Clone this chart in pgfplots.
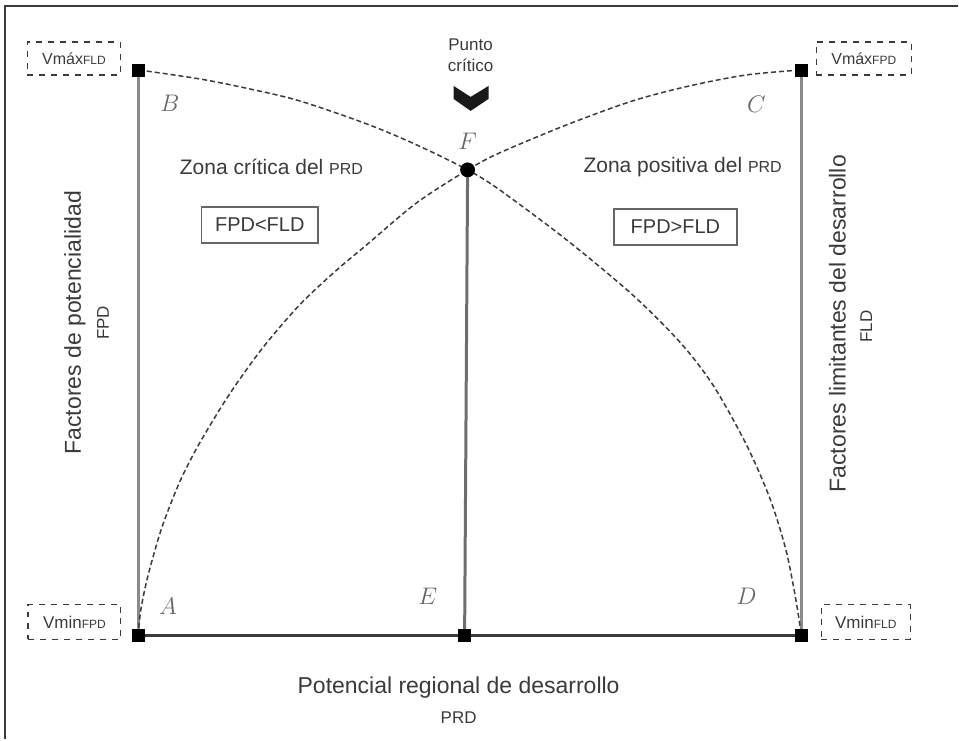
\documentclass[border=0pt]{standalone}
\usepackage{pgfplots}
\pgfplotsset{compat=1.18}
\usepackage{fontspec}
\setmainfont{Liberation Sans}
\definecolor{ink}{HTML}{3A3A3A}
\definecolor{rulegray}{HTML}{8A8A8A}
\newcommand{\fs}[1]{\fontsize{#1}{#1}\selectfont}

\begin{document}
\begin{tikzpicture}
\begin{axis}[
  scale only axis, width=479.5pt, height=370pt,
  xmin=0, xmax=959, ymin=0, ymax=740, y dir=reverse,
  axis line style={draw=none}, ticks=none, clip=false,
]
% outer frame (top and left only)
\addplot[ink, line width=0.8pt] coordinates {(5,740) (5,6) (959,6)};

% vertical and base lines
\addplot[rulegray, line width=1.5pt] coordinates {(139,70) (139,636)};
\addplot[rulegray, line width=1.5pt] coordinates {(802,70) (802,636)};
\addplot[rulegray!80!black, line width=1.5pt] coordinates {(468,170) (465,636)};
\addplot[ink, line width=1.5pt] coordinates {(139,636) (802,636)};

% dashed curves
\addplot[ink, line width=0.75pt, dash pattern=on 2.5pt off 1.5pt, smooth] coordinates {
  (138,636) (141,610) (146,585) (153,558) (163,525) (180,482) (200,443)
  (230,394) (263,348) (300,305) (335,272) (367,245) (417,203) (468,170)
  (500,153) (567,125) (633,101) (690,86) (747,75) (802,70)
};
\addplot[ink, line width=0.75pt, dash pattern=on 2.5pt off 1.5pt, smooth] coordinates {
  (139,70) (200,79) (250,89) (300,101) (367,124) (417,145) (468,170)
  (500,190) (567,240) (633,295) (681,343) (714,386)
  (747,445) (771,500) (787,552) (797,603) (802,636)
};

% end points
\addplot[only marks, mark=square*, mark size=3pt, black] coordinates {
  (139,70) (802,70) (139,636) (465,636) (802,636)
};
\addplot[only marks, mark=*, mark size=3.5pt, black] coordinates {(468,170)};

% critical-point chevron
\addplot[fill=black!90, draw=none] coordinates {
  (454,86) (471,97) (489,86) (489,99) (471,111) (454,99)
} --cycle;

% point letters
\node[text=black!60] at (axis cs:170,103) {\fs{12}$B$};
\node[text=black!60] at (axis cs:757,104) {\fs{12}$C$};
\node[text=black!60] at (axis cs:468,141) {\fs{12}$F$};
\node[text=black!60] at (axis cs:168,607) {\fs{12}$A$};
\node[text=black!60] at (axis cs:428,597) {\fs{12}$E$};
\node[text=black!60] at (axis cs:747,597) {\fs{12}$D$};

% annotations
\node[text=ink, align=center] at (axis cs:471,55) {\fs{8.5}Punto\\[-1.5pt]\fs{8.5}crítico};
\node[text=ink, anchor=west] at (axis cs:173,167) {\fs{10.5}Zona crítica del {\fs{8}PRD}};
\node[text=ink, anchor=west] at (axis cs:577,167) {\fs{10.5}Zona positiva del {\fs{8}PRD}};
\node[text=ink, draw=black!60, line width=0.8pt, minimum width=58.5pt, minimum height=18pt, inner sep=0pt]
  at (axis cs:260,225) {\fs{10}FPD<FLD};
\node[text=ink, draw=black!60, line width=0.8pt, minimum width=61.5pt, minimum height=18pt, inner sep=0pt]
  at (axis cs:676,227) {\fs{10}FPD>FLD};

% dashed value boxes
\node[text=ink, draw=ink, dashed, line width=0.6pt, minimum width=46.5pt, minimum height=16.5pt, inner sep=0pt]
  at (axis cs:74,58.5) {\fs{8}Vmáx{\fs{6}FLD}};
\node[text=ink, draw=ink, dashed, line width=0.6pt, minimum width=47.5pt, minimum height=16.5pt, inner sep=0pt]
  at (axis cs:864.5,58.5) {\fs{8}Vmáx{\fs{6}FPD}};
\node[text=ink, draw=ink, dashed, line width=0.6pt, minimum width=46.5pt, minimum height=17.5pt, inner sep=0pt]
  at (axis cs:74.5,622.5) {\fs{8.5}Vmin{\fs{6}FPD}};
\node[text=ink, draw=ink, dashed, line width=0.6pt, minimum width=44.5pt, minimum height=17.5pt, inner sep=0pt]
  at (axis cs:866.5,622.5) {\fs{8.5}Vmin{\fs{6}FLD}};

% axis titles
\node[text=ink] at (axis cs:459,688) {\fs{11.5}Potencial regional de desarrollo};
\node[text=ink] at (axis cs:459,718) {\fs{8.5}PRD};
\node[text=ink, rotate=90] at (axis cs:75,323) {\fs{11.5}Factores de potencialidad};
\node[text=ink, rotate=90] at (axis cs:103,323) {\fs{8.5}FPD};
\node[text=ink, rotate=90] at (axis cs:838,324) {\fs{11.5}Factores limitantes del desarrollo};
\node[text=ink, rotate=90] at (axis cs:867,327) {\fs{8.5}FLD};
\end{axis}
\end{tikzpicture}
\end{document}
